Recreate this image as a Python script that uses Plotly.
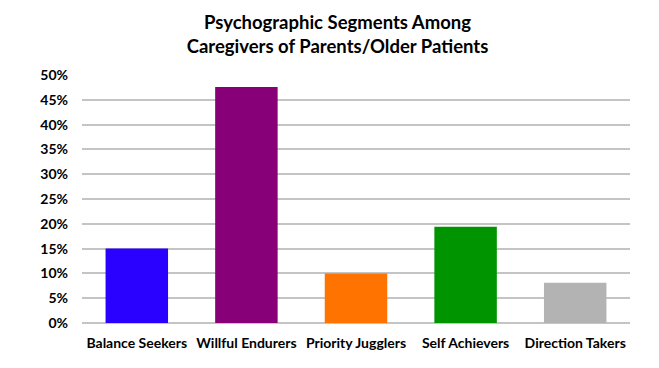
import plotly.graph_objects as go

categories = ["Balance Seekers", "Willful Endurers", "Priority Jugglers", "Self Achievers", "Direction Takers"]
values = [15.0, 47.6, 10.0, 19.4, 8.1]
colors = ["#2a00ff", "#880078", "#ff7300", "#009400", "#b3b3b3"]
tick_vals = [0, 5, 10, 15, 20, 25, 30, 35, 40, 45, 50]
tick_text = [f"{v}%" for v in tick_vals]

fig = go.Figure(go.Bar(
    x=categories, y=values,
    marker=dict(color=colors, line=dict(width=0)),
))

fig.update_layout(
    width=659, height=368,
    margin=dict(l=74, r=37, t=67, b=53),
    paper_bgcolor="white", plot_bgcolor="white",
    bargap=0.43,
    showlegend=False,
    font=dict(family="Lato", color="black"),
    title=dict(
        text="<b>Psychographic Segments Among<br>Caregivers of Parents/Older Patients</b>",
        x=0.5, xanchor="center", y=0.944, yanchor="top",
        font=dict(size=18.5, family="Lato", color="black"),
    ),
)
fig.update_yaxes(
    range=[0, 50], tickvals=tick_vals, ticktext=tick_text,
    showgrid=True, gridcolor="#c4c4c4", gridwidth=2,
    zeroline=True, zerolinecolor="#c4c4c4", zerolinewidth=2,
    tickfont=dict(size=14, family="Lato", color="black", weight="bold"),
    ticks="", ticklabelstandoff=13,
)
fig.update_xaxes(
    tickfont=dict(size=14, family="Lato", color="black", weight="bold"),
    ticks="", showline=False, ticklabelstandoff=10,
)

fig.write_html("out.html")
